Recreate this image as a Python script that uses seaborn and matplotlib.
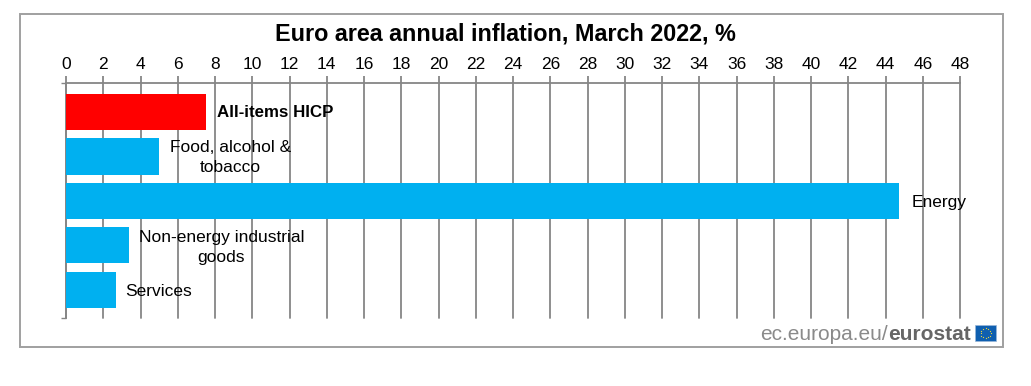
import numpy as np
import pandas as pd
import seaborn as sns
import matplotlib
matplotlib.use("Agg")
import matplotlib.pyplot as plt
from matplotlib.patches import Rectangle

categories = ["All-items HICP", "Food, alcohol &\ntobacco", "Energy", "Non-energy industrial\ngoods", "Services"]
values = [7.5, 5.0, 44.7, 3.4, 2.7]
groups = ["total", "part", "part", "part", "part"]
x_ticks = list(range(0, 50, 2))
title = "Euro area annual inflation, March 2022, %"

W, H = 1031, 386
sns.set_theme(style="white")
plt.rcParams["font.family"] = ["Liberation Sans", "DejaVu Sans"]
fig = plt.figure(figsize=(W / 100, H / 100), dpi=100, facecolor="white")

def fx(p): return p / W
def fy(p): return 1 - p / H

fig.add_artist(Rectangle((fx(20), fy(347)), (1003 - 20) / W, (347 - 14) / H, transform=fig.transFigure,
                         fill=False, edgecolor="#a0a0a0", linewidth=1.4))

ax = fig.add_axes([fx(66), fy(318), (960 - 66) / W, (318 - 83) / H])
df = pd.DataFrame({"cat": categories, "val": values, "grp": groups})
sns.barplot(data=df, y="cat", x="val", hue="grp", palette={"total": "#ff0000", "part": "#00b0f0"},
            dodge=False, legend=False, width=0.81, saturation=1, ax=ax, zorder=3, linewidth=0)
ax.set_xlim(0, 48)
ax.set_ylim(4.63, -0.652)
ax.set_xlabel("")
ax.set_ylabel("")
ax.set_xticks(x_ticks)
ax.set_xticklabels([str(t) for t in x_ticks], fontsize=12.5, color="black")
ax.xaxis.tick_top()
ax.set_yticks([4.63, -0.652])
ax.set_yticklabels([])
ax.tick_params(axis="x", length=5, width=1.3, color="#868686", pad=3, top=True, bottom=False)
ax.tick_params(axis="y", length=3.6, width=1.0, color="#868686", left=True, right=False)
ax.grid(axis="x", color="#868686", linewidth=1.3, zorder=0)
for line in ax.get_xgridlines():
    line.set_clip_on(False)
ax.grid(axis="y", visible=False)
ax.set_axisbelow(True)
for s in ["right", "bottom"]:
    ax.spines[s].set_visible(False)
for s in ["top", "left"]:
    ax.spines[s].set_color("#868686")
    ax.spines[s].set_linewidth(1.3)

lab = dict(textcoords="offset pixels", va="center", color="black", zorder=5, linespacing=1.4)
ax.annotate(categories[0], (values[0], 0), xytext=(11, 0), ha="left", fontweight="bold", fontsize=12.2, **lab)
ax.annotate(categories[1], (values[1], 1), xytext=(71, -1), ha="center", fontsize=12.5, **lab)
ax.annotate(categories[2], (values[2], 2), xytext=(13, -2), ha="left", fontsize=12.5, **lab)
ax.annotate(categories[3], (values[3], 3), xytext=(92, -2), ha="center", fontsize=12.5, **lab)
ax.annotate(categories[4], (values[4], 4), xytext=(9, -2), ha="left", fontsize=12.5, **lab)

fig.text(fx(505), fy(34), title, ha="center", va="center", fontsize=16.8, fontweight="bold", color="black")

fig.text(fx(888), fy(334), "ec.europa.eu/", ha="right", va="center", fontsize=15, color="#8a8a8a")
fig.text(fx(888), fy(334), "eurostat", ha="left", va="center", fontsize=15, fontweight="bold", color="#666666")
fig.add_artist(Rectangle((fx(975), fy(341)), 21 / W, 16 / H, transform=fig.transFigure,
                         facecolor="#0f5fb0", edgecolor="#9ab8d8", linewidth=0.5))
ang = np.linspace(0, 2 * np.pi, 12, endpoint=False)
fig.add_artist(plt.Line2D(fx(985.5 + 5 * np.cos(ang)), fy(333 + 5 * np.sin(ang)), transform=fig.transFigure,
                          linestyle="none", marker="o", markersize=0.9, color="#e8d840", markeredgewidth=0))

fig.savefig("out.png", dpi=100)
